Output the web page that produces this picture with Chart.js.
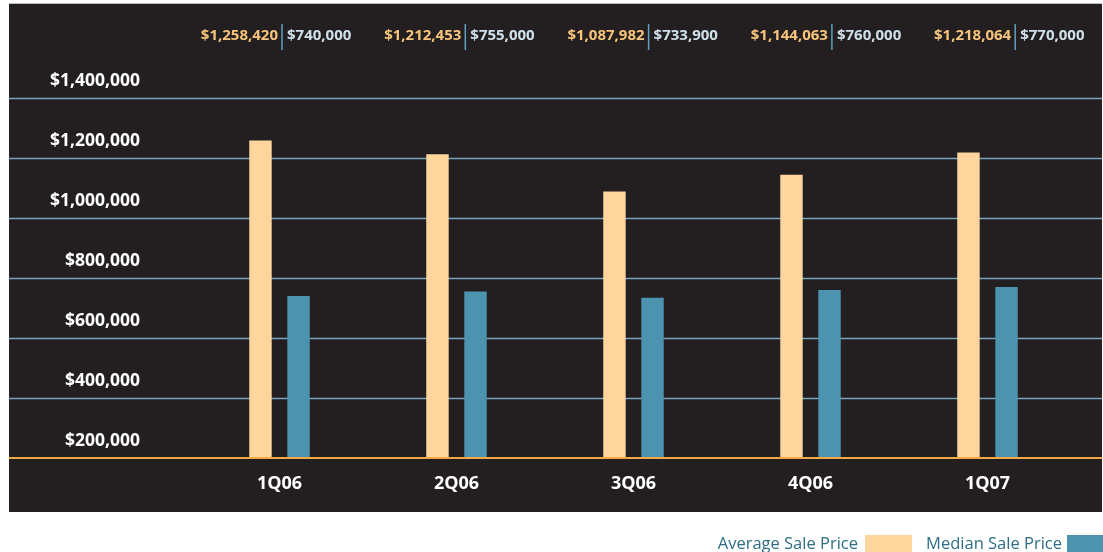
<!DOCTYPE html>
<html>
<head>
<meta charset="utf-8">
<script src="https://cdn.jsdelivr.net/npm/chart.js@4"></script>
<style>
  html, body { margin: 0; padding: 0; background: #ffffff; }
  #wrap { width: 1103px; height: 552px; position: relative; }
</style>
</head>
<body>
<div id="wrap"><canvas id="myChart"></canvas></div>
<script>
'use strict';

const quarters = ['1Q06', '2Q06', '3Q06', '4Q06', '1Q07'];
const averagePrice = [1258420, 1212453, 1087982, 1144063, 1218064];
const medianPrice = [740000, 755000, 733900, 760000, 770000];
const yTicks = [200000, 400000, 600000, 800000, 1000000, 1200000, 1400000];

const fmt = (v) => '$' + v.toLocaleString('en-US');
const FONT = '"Open Sans", Lato, sans-serif';

// black panel, grid lines, y labels, values on top and legend
const panelPlugin = {
	id: 'panel',
	beforeDraw(chart) {
		const c = chart.ctx;
		const y = chart.scales.y;
		c.save();
		c.fillStyle = '#bdbdbd';
		c.fillRect(9, 3, 1093, 1);
		c.fillStyle = '#231f20';
		c.fillRect(9, 4, 1093, 508);
		c.strokeStyle = '#7aa3bd';
		c.lineWidth = 1.5;
		yTicks.forEach((t) => {
			if (t === y.min) return;
			const py = Math.round(y.getPixelForValue(t)) + 0.5;
			c.beginPath();
			c.moveTo(9, py);
			c.lineTo(1102, py);
			c.stroke();
		});
		c.restore();
	},
	afterDatasetsDraw(chart) {
		const c = chart.ctx;
		const x = chart.scales.x;
		const y = chart.scales.y;
		c.save();
		// baseline
		c.strokeStyle = '#f0a945';
		c.lineWidth = 2;
		const by = y.getPixelForValue(y.min);
		c.beginPath();
		c.moveTo(9, by);
		c.lineTo(1102, by);
		c.stroke();

		// y labels sit above their lines
		c.font = 'bold 17.5px ' + FONT;
		c.fillStyle = '#ffffff';
		c.textAlign = 'right';
		c.textBaseline = 'middle';
		yTicks.forEach((t) => {
			c.fillText(fmt(t), 140, y.getPixelForValue(t) - 17);
		});

		// values above the plot
		c.font = 'bold 15px ' + FONT;
		quarters.forEach((q, i) => {
			const sx = x.getPixelForValue(i) + 2.5 + i * 6.3;
			c.textAlign = 'right';
			c.fillStyle = '#f6c47a';
			c.fillText(fmt(averagePrice[i]), sx - 4, 36);
			c.textAlign = 'left';
			c.fillStyle = '#cfe0ea';
			c.fillText(fmt(medianPrice[i]), sx + 5, 36);
			c.strokeStyle = '#5f9fbf';
			c.lineWidth = 1.5;
			c.beginPath();
			c.moveTo(sx, 24);
			c.lineTo(sx, 50);
			c.stroke();
		});

		// legend: text then swatch
		c.font = '16.5px ' + FONT;
		c.textAlign = 'right';
		c.textBaseline = 'middle';
		const legend = [[858, 865, 47], [1062, 1067, 36]];
		chart.data.datasets.forEach((ds, i) => {
			const [tx, bx, bw] = legend[i];
			c.fillStyle = '#2e6e86';
			c.fillText(ds.label, tx, 544);
			c.fillStyle = ds.backgroundColor;
			c.fillRect(bx, 535, bw, 17);
		});
		c.restore();
	}
};

new Chart(document.getElementById('myChart'), {
	type: 'bar',
	data: {
		labels: quarters,
		datasets: [{
			label: 'Average Sale Price',
			data: averagePrice,
			backgroundColor: '#fed59c',
			borderWidth: 0,
		}, {
			label: 'Median Sale Price',
			data: medianPrice,
			backgroundColor: '#4b93ae',
			borderWidth: 0,
		}]
	},
	options: {
		responsive: true,
		maintainAspectRatio: false,
		animation: false,
		datasets: {
			bar: {
				categoryPercentage: 0.43,
				barPercentage: 0.59,
			}
		},
		layout: {
			padding: { left: 191, right: 27, top: 98, bottom: 0 }
		},
		plugins: {
			legend: { display: false },
			tooltip: { enabled: false },
		},
		scales: {
			x: {
				grid: { display: false, drawTicks: false },
				border: { display: false },
				ticks: {
					color: '#ffffff',
					font: { family: FONT, size: 18, weight: 'bold' },
					padding: 15,
				},
				afterFit(scale) { scale.height = 94; },
			},
			y: {
				min: 200000,
				max: 1400000,
				display: false,
			}
		}
	},
	plugins: [panelPlugin]
});
</script>
</body>
</html>
